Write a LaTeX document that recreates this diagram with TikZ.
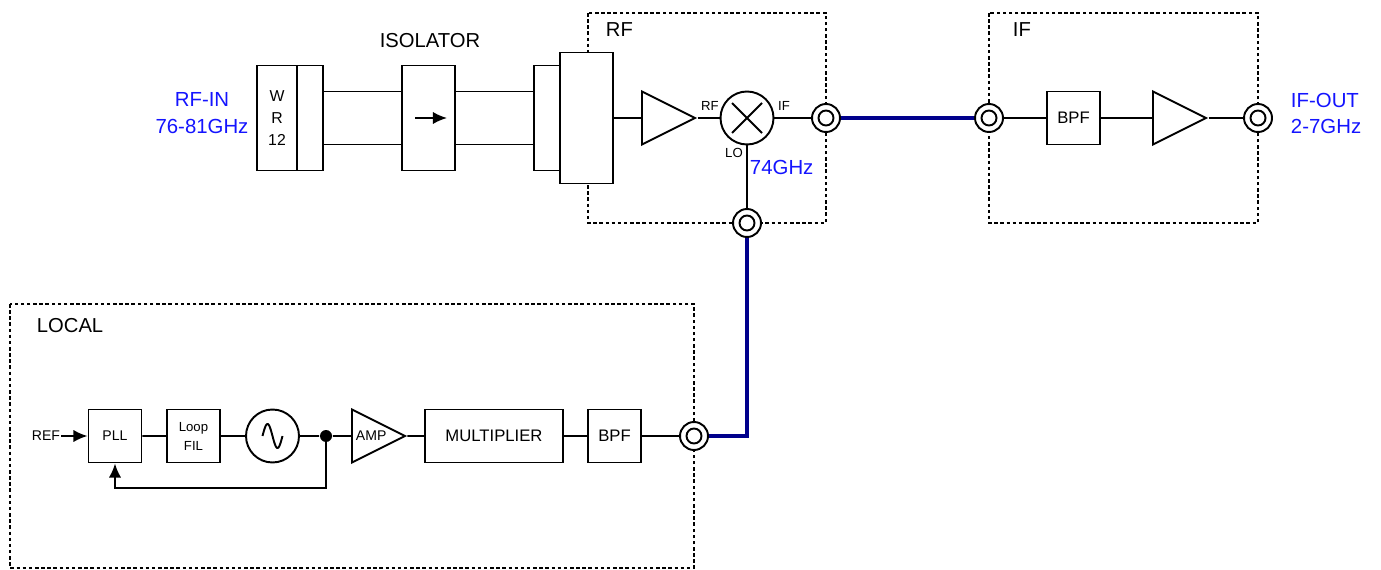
\documentclass[tikz,border=0pt]{standalone}
\usepackage{fontspec}
\setmainfont{Liberation Sans}
\usetikzlibrary{shapes.geometric,arrows.meta}
\definecolor{coaxblue}{RGB}{0,0,140}
\definecolor{freqblue}{RGB}{20,20,255}

\begin{document}
\begin{tikzpicture}[x=0.02cm, y=-0.02cm, line width=1.1pt,
    blk/.style={draw, fill=white, minimum width=1.06cm, minimum height=1.06cm, inner sep=0pt, font=\fontsize{9.5}{11}\selectfont},
    amp/.style={draw, isosceles triangle, isosceles triangle stretches, minimum width=1.06cm, minimum height=1.06cm, inner sep=0pt, anchor=west, font=\fontsize{8}{9}\selectfont},
    conn/.style={draw, circle, fill=white, minimum size=0.56cm, inner sep=0pt,
        path picture={\draw[line width=1.1pt] (path picture bounding box.center) circle (0.15cm);}},
    mixer/.style={draw, circle, minimum size=1.06cm, inner sep=0pt,
        path picture={\draw ([shift={(-0.3cm,-0.3cm)}]path picture bounding box.center) -- ([shift={(0.3cm,0.3cm)}]path picture bounding box.center)
            ([shift={(-0.3cm,0.3cm)}]path picture bounding box.center) -- ([shift={(0.3cm,-0.3cm)}]path picture bounding box.center);}},
    frame/.style={line width=0.8pt, dash pattern=on 2pt off 1.5pt},
    coax/.style={coaxblue, line width=2.8pt},
    freq/.style={freqblue, inner sep=0pt, font=\fontsize{11.6}{15.3}\selectfont},
    ttl/.style={inner sep=0pt, font=\fontsize{11.5}{13}\selectfont},
    tiny/.style={inner sep=0pt, font=\fontsize{7.5}{8.5}\selectfont},
    >={Latex[length=8pt,width=7pt]}]
    \useasboundingbox (0,0) rectangle (1381,570);

    % dotted frames
    \draw[frame] (588,13) rectangle (826,223);
    \draw[frame] (989,13) rectangle (1258,223);
    \draw[frame] (10,304) rectangle (694,568);
    \node[ttl, anchor=west] (trf) at (605,30) {RF};
    \node[ttl, anchor=west] (tif) at (1012,30) {IF};
    \node[ttl, anchor=west] (tlocal) at (36,326) {LOCAL};

    % waveguide part
    \node[freq, align=center] (rfin) at (202,113.5) {RF-IN\\76-81GHz};
    \node[blk, minimum width=0.8cm, minimum height=2.1cm, align=center, font=\fontsize{9}{12.75}\selectfont] (wr) at (277,118) {W\\R\\12};
    \node[blk, minimum width=0.52cm, minimum height=2.1cm] (wrf) at (310,118) {};
    \node[blk, minimum height=2.1cm] (iso) at (428.5,118) {};
    \node[ttl] (tiso) at (430,41) {ISOLATOR};
    \node[blk, minimum width=0.52cm, minimum height=2.1cm] (fl) at (547,118) {};
    \node[blk, minimum height=2.62cm] (tr) at (586.5,118) {};
    \draw ([yshift=0.53cm]wrf.east) -- ([yshift=0.53cm]iso.west);
    \draw ([yshift=-0.53cm]wrf.east) -- ([yshift=-0.53cm]iso.west);
    \draw ([yshift=0.53cm]iso.east) -- ([yshift=0.53cm]fl.west);
    \draw ([yshift=-0.53cm]iso.east) -- ([yshift=-0.53cm]fl.west);
    \draw[->] ([xshift=-0.27cm]iso.center) -- ([xshift=0.37cm]iso.center);

    % RF
    \node[amp] (rfamp) at (641,118) {};
    \node[mixer] (mix) at (747,118) {};
    \node[conn] (c1) at (826,118) {};
    \node[conn] (c2) at (747,223) {};
    \node[tiny] (lrf) at (710,106) {RF};
    \node[tiny] (lif) at (784,106) {IF};
    \node[tiny] (llo) at (734,153) {LO};
    \node[freq, anchor=west] (flo) at (749,167) {74GHz};
    \draw (tr) -- (rfamp) -- (mix) -- (c1);
    \draw (mix) -- (c2);

    % IF
    \node[conn] (c3) at (989,118) {};
    \node[blk] (ifbpf) at (1073.5,118) {BPF};
    \node[amp] (ifamp) at (1152,118) {};
    \node[conn] (c4) at (1258,118) {};
    \node[freq, align=left, anchor=west] (ifout) at (1290,113.5) {IF-OUT\\2-7GHz};
    \draw (c3) -- (ifbpf) -- (ifamp) -- (c4);

    % LOCAL
    \node[tiny, font=\fontsize{8}{9}\selectfont] (ref) at (46,436) {REF};
    \node[blk, font=\fontsize{8}{9}\selectfont] (pll) at (115,436) {PLL};
    \node[blk, align=center, font=\fontsize{7.5}{10.8}\selectfont] (loop) at (193.5,436) {Loop\\FIL};
    \node[draw, circle, minimum size=1.06cm, inner sep=0pt] (vco) at (272.5,436) {};
    \draw[shift={(vco.center)}] plot[domain=-10:10, samples=40, smooth] (\x, {12*sin(18*\x)});
    \node[circle, fill, minimum size=0.24cm, inner sep=0pt] (dot) at (326,436) {};
    \node[amp] (lamp) at (351,436) {AMP};
    \node[blk, minimum width=2.76cm] (mult) at (494,436) {MULTIPLIER};
    \node[blk] (lbpf) at (614.5,436) {BPF};
    \node[conn] (c5) at (694,436) {};
    \coordinate (fb) at (326,488);
    \draw[->] (ref) -- (pll);
    \draw (pll) -- (loop) -- (vco) -- (dot) -- (lamp) -- (mult) -- (lbpf) -- (c5);
    \draw[->] (dot.center) -- (fb) -| (pll.south);

    % coax cables
    \draw[coax] (c1) -- (c3);
    \draw[coax] (c5) -| (c2);
\end{tikzpicture}
\end{document}
